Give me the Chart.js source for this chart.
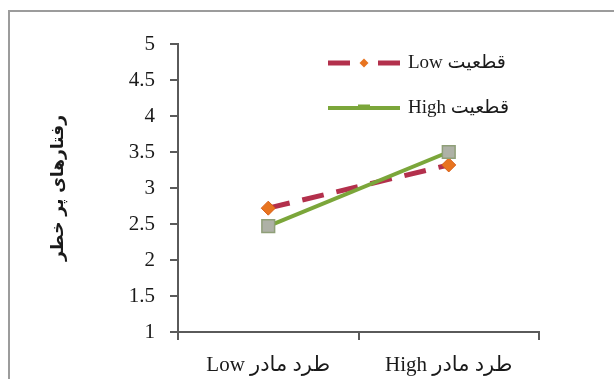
<!DOCTYPE html>
<html>
<head>
<meta charset="utf-8">
<script src="https://cdn.jsdelivr.net/npm/chart.js@4/dist/chart.umd.min.js"></script>
<style>
  html, body { margin: 0; padding: 0; background: #ffffff; }
  #wrap { width: 614px; height: 379px; position: relative; }
</style>
</head>
<body>
<div id="wrap"><canvas id="c" width="614" height="379"></canvas></div>
<script>
// Categories on the x axis (maternal rejection level)
const categories = ['Low طرد مادر', 'High طرد مادر'];
// Series: uncertainty level
const seriesNames = ['Low قطعیت', 'High قطعیت'];
const lowCertainty = [2.72, 3.32];
const highCertainty = [2.47, 3.5];
// Value axis
const yTicks = [1, 1.5, 2, 2.5, 3, 3.5, 4, 4.5, 5];
const yTitle = 'رفتارهای پر خطر';

const serif = "'Liberation Serif', 'DejaVu Sans', serif";
const axisColor = '#5a5a5a';

// Outer frame around the figure
const framePlugin = {
  id: 'frame',
  beforeDraw(chart) {
    const ctx = chart.ctx;
    ctx.save();
    ctx.fillStyle = '#ffffff';
    ctx.fillRect(0, 0, chart.width, chart.height);
    ctx.strokeStyle = '#9c9c9c';
    ctx.lineWidth = 2;
    ctx.strokeRect(9, 11, chart.width + 20, chart.height + 20);
    ctx.restore();
  }
};

// Legend drawn inside the plot area, one entry per row
const innerLegend = {
  id: 'innerLegend',
  afterDatasetsDraw(chart) {
    const ctx = chart.ctx;
    const x0 = 328, lineLen = 72, rows = [63, 108];
    chart.data.datasets.forEach((ds, i) => {
      const y = rows[i];
      ctx.save();
      ctx.strokeStyle = ds.borderColor;
      ctx.lineWidth = ds.borderWidth;
      // dashed sample keeps the marker in the gap between two dashes
      ctx.setLineDash(ds.borderDash ? [22, 28] : []);
      ctx.beginPath();
      ctx.moveTo(x0, y);
      ctx.lineTo(x0 + lineLen, y);
      ctx.stroke();
      ctx.setLineDash([]);
      const mx = x0 + lineLen / 2;
      if (ds.pointStyle === 'rectRot') {
        const r = 4.5;
        ctx.fillStyle = ds.pointBackgroundColor;
        ctx.beginPath();
        ctx.moveTo(mx, y - r); ctx.lineTo(mx + r, y); ctx.lineTo(mx, y + r); ctx.lineTo(mx - r, y);
        ctx.closePath(); ctx.fill();
      } else {
        ctx.fillStyle = ds.borderColor;
        ctx.fillRect(mx - 6, y - 3.5, 12, 5);
      }
      ctx.fillStyle = '#1a1a1a';
      ctx.font = '19px ' + serif;
      ctx.textBaseline = 'middle';
      ctx.textAlign = 'left';
      ctx.fillText(ds.label, x0 + lineLen + 8, y);
      ctx.restore();
    });
  }
};

new Chart(document.getElementById('c'), {
  type: 'line',
  data: {
    labels: categories,
    datasets: [
      {
        label: seriesNames[0],
        data: lowCertainty,
        borderColor: '#b3304c',
        borderWidth: 5,
        borderDash: [22, 13],
        pointStyle: 'rectRot',
        pointRadius: 7,
        pointBackgroundColor: '#e8741f',
        pointBorderColor: '#d9601a',
        pointBorderWidth: 1,
        order: 2
      },
      {
        label: seriesNames[1],
        data: highCertainty,
        borderColor: '#7ba63a',
        borderWidth: 4,
        pointStyle: 'rect',
        pointRadius: 9,
        pointBackgroundColor: '#aeb1a6',
        pointBorderColor: '#8f9f78',
        pointBorderWidth: 1.5,
        order: 1
      }
    ]
  },
  options: {
    responsive: false,
    animation: false,
    events: [],
    layout: { padding: { left: 0, right: 75, top: 44, bottom: 0 } },
    plugins: {
      legend: { display: false },
      tooltip: { enabled: false }
    },
    scales: {
      x: {
        offset: true,
        grid: {
          offset: true,
          drawOnChartArea: false,
          drawTicks: true,
          tickLength: 8,
          color: axisColor,
          lineWidth: 2
        },
        border: { display: true, color: axisColor, width: 2 },
        ticks: {
          color: '#1a1a1a',
          font: { family: serif, size: 21 },
          padding: 13,
          maxRotation: 0
        },
        afterFit(scale) { scale.height = 47; }
      },
      y: {
        min: 1,
        max: 5,
        afterBuildTicks(scale) { scale.ticks = yTicks.map(v => ({ value: v })); },
        grid: {
          drawOnChartArea: false,
          drawTicks: true,
          tickLength: 8,
          color: axisColor,
          lineWidth: 2
        },
        border: { display: true, color: axisColor, width: 2 },
        ticks: {
          color: '#1a1a1a',
          font: { family: serif, size: 21 },
          padding: 15,
          callback: v => String(v)
        },
        title: {
          display: true,
          text: yTitle,
          color: '#1a1a1a',
          font: { family: "'DejaVu Sans', sans-serif", size: 17, weight: 'bold' },
          padding: { top: 48, bottom: 0 }
        },
        afterFit(scale) { scale.width = 178; }
      }
    }
  },
  plugins: [framePlugin, innerLegend]
});
</script>
</body>
</html>
